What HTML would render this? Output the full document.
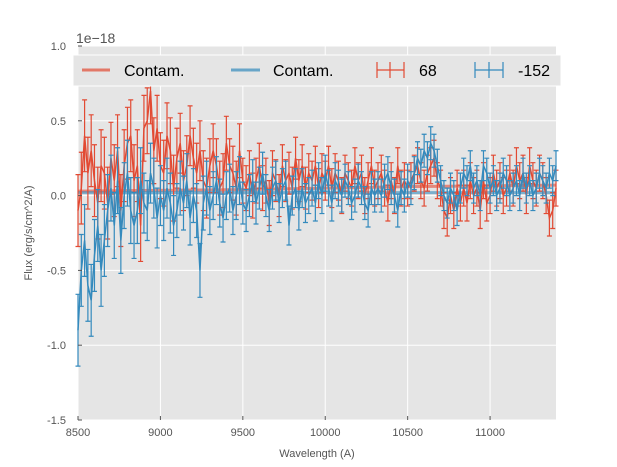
<!DOCTYPE html>
<html><head><meta charset="utf-8"><style>
body{margin:0;background:#fff;font-family:"Liberation Sans","DejaVu Sans",sans-serif}
svg{display:block}
</style></head><body>
<svg id="chart" width="617" height="467" xmlns="http://www.w3.org/2000/svg">
<rect x="78" y="46" width="478" height="374" fill="#e5e5e5"/>
<g id="grid"></g>
<g id="series"></g>
<g id="axes"></g>
<text x="76" y="43" font-size="14" fill="#555">1e−18</text>
<text x="317" y="457" font-size="11" fill="#555" text-anchor="middle">Wavelength (A)</text>
<text transform="translate(32,233) rotate(-90)" font-size="11" fill="#555" text-anchor="middle">Flux (erg/s/cm^2/A)</text>
<g>
<rect x="73" y="55" width="488" height="31" fill="#e5e5e5" stroke="#fff" stroke-width="1"/>
<g><line x1="82" y1="70" x2="110" y2="70" stroke="#E24A33" stroke-width="3" opacity="0.7"/><text x="124" y="76" font-size="16" fill="#000">Contam.</text></g>
<g><line x1="231" y1="70" x2="260" y2="70" stroke="#348ABD" stroke-width="3" opacity="0.7"/><text x="273" y="76" font-size="16" fill="#000">Contam.</text></g>
<g stroke="#E24A33" stroke-width="1.2"><line x1="377" y1="70" x2="404" y2="70"/><line x1="390" y1="62" x2="390" y2="78"/><line x1="377" y1="62" x2="377" y2="78"/><line x1="404" y1="62" x2="404" y2="78"/><text x="419" y="76" font-size="16" fill="#000" stroke="none">68</text></g>
<g stroke="#348ABD" stroke-width="1.2"><line x1="475" y1="70" x2="503" y2="70"/><line x1="489" y1="62" x2="489" y2="78"/><line x1="475" y1="62" x2="475" y2="78"/><line x1="503" y1="62" x2="503" y2="78"/><text x="518" y="76" font-size="16" fill="#000" stroke="none">-152</text></g>
</g>
</svg>
<script>
const xStart = 8500, xStep = 20;
const redFlux = [-0.1,0.05,0.4,0.15,0.3,0.1,-0.05,0.2,0.15,-0.05,0.25,
0.1,0.3,-0.1,0.2,0.35,0.4,0.1,0.2,-0.2,0.45,
0.5,0.7,0.3,0.45,0.2,0.15,0.4,0.3,0.05,0.25,
0.35,0.1,0.2,0.4,0.25,0.15,0.3,0.1,0.05,0.2,
0.3,0.2,0.05,0.1,0.35,0.2,0.15,0.05,0.3,0.1,
0.05,0.15,0.0,0.1,0.2,0.05,0.1,-0.05,0.15,0.1,
0.0,0.2,0.1,0.15,0.05,0.25,0.1,0.2,0.05,0.15,
0.1,0.2,0.05,0.15,0.1,0.2,0.05,0.15,0.1,0.0,
0.15,0.1,0.05,0.2,0.1,0.15,0.0,0.1,0.2,0.05,
0.1,0.15,0.05,-0.05,0.1,0.0,0.2,0.05,0.1,0.05,
0.1,0.15,0.2,0.1,0.05,0.15,0.2,0.25,0.1,0.05,
-0.1,-0.15,0.0,-0.1,0.05,-0.05,0.05,-0.05,0.1,0.0,
0.05,-0.1,0.1,-0.05,0.0,0.15,0.05,0.1,0.0,0.05,
0.15,0.05,0.2,0.1,0.15,0.0,0.2,0.1,0.05,0.15,
0.1,0.0,-0.15,-0.1,0.05];
const blueFlux = [-0.9,-0.5,-0.3,-0.6,-0.7,-0.4,-0.2,-0.5,-0.3,-0.1,0.05,
-0.2,0.1,-0.3,0.0,0.15,-0.1,-0.2,-0.1,0.1,-0.05,
-0.1,0.15,0.05,-0.15,0.0,-0.1,0.05,-0.05,-0.2,-0.1,
0.05,-0.05,0.1,-0.15,0.0,-0.1,-0.5,-0.05,0.05,-0.1,
0.0,0.1,-0.05,-0.15,0.0,0.05,-0.1,0.0,0.1,-0.05,
-0.1,0.0,0.1,-0.05,0.05,0.15,0.0,-0.1,0.05,0.1,
-0.05,0.05,0.1,-0.2,0.0,0.05,-0.1,0.05,-0.05,0.0,
0.05,-0.05,0.1,0.0,0.15,0.05,-0.05,0.1,0.05,0.0,
0.1,0.05,-0.05,0.0,0.1,0.05,-0.05,-0.1,0.05,0.0,
0.05,0.0,0.1,0.15,0.05,0.0,-0.1,0.05,0.0,0.1,
0.05,0.15,0.25,0.2,0.3,0.25,0.35,0.3,0.2,0.1,
0.0,-0.05,0.05,0.0,-0.1,0.05,0.15,0.1,0.2,0.05,
0.1,0.0,0.2,0.15,0.05,0.1,0.0,0.05,0.15,0.1,
0.0,0.05,0.1,0.0,0.15,0.05,0.1,0.0,0.05,0.15,
0.1,0.05,0.15,0.1,0.2];
// error per 10-point block
const redErrBlocks = [0.24,0.24,0.22,0.2,0.18,0.15,0.14,0.13,0.12,0.12,0.12,0.12,0.12,0.12,0.12];
const blueErrBlocks = [0.24,0.22,0.2,0.18,0.16,0.14,0.13,0.12,0.11,0.11,0.11,0.1,0.1,0.1,0.1];
const contamRedX = [8500,9500,10500,11400];
const contamRed = [0.03,0.04,0.06,0.07];
const contamBlueX = [8500,11400];
const contamBlue = [0.02,0.02];
const xTicks = [8500,9000,9500,10000,10500,11000];
const yTicks = [-1.5,-1.0,-0.5,0.0,0.5,1.0];

const NS="http://www.w3.org/2000/svg";
const X0=78,X1=556,Y0=46,Y1=420;
const xs=v=>X0+(v-8500)/(11400-8500)*(X1-X0);
const ys=v=>Y1-(v+1.5)/2.5*(Y1-Y0);
function mk(tag,attrs,parent){const e=document.createElementNS(NS,tag);for(const k in attrs)e.setAttribute(k,attrs[k]);parent.appendChild(e);return e;}
const grid=document.getElementById('grid'),axes=document.getElementById('axes'),ser=document.getElementById('series');
xTicks.forEach(t=>{
  const l=mk('line',{x1:xs(t),x2:xs(t),y1:Y0,y2:Y1,stroke:'#fff','stroke-width':1},grid);
  
  
  const tk=mk('line',{x1:xs(t),x2:xs(t),y1:Y1,y2:Y1-4,stroke:'#555'},axes);
  
  
  const tx=mk('text',{x:xs(t),y:Y1+16,'font-size':11,fill:'#555','text-anchor':'middle'},axes);
  tx.textContent=t;
  
  
});
yTicks.forEach(t=>{
  const l=mk('line',{x1:X0,x2:X1,y1:ys(t),y2:ys(t),stroke:'#fff','stroke-width':1},grid);
  
  
  const tk=mk('line',{x1:X0,x2:X0+4,y1:ys(t),y2:ys(t),stroke:'#555'},axes);
  
  
  const tx=mk('text',{x:X0-12,y:ys(t)+4,'font-size':11,fill:'#555','text-anchor':'end'},axes);
  tx.textContent=t.toFixed(1);
  
  
});
function contam(xa,ya,color,name){
  const p=mk('polyline',{points:xa.map((x,i)=>xs(x)+','+ys(ya[i])).join(' '),fill:'none',stroke:color,'stroke-width':3,opacity:0.6},ser);
  
  
}
function errSeries(vals,errs,color,name){
  const g=mk('g',{stroke:color,'stroke-width':1.2,fill:'none'},ser);
  
  
  vals.forEach((v,i)=>{
    const x=xs(xStart+i*xStep),e=errs[Math.floor(i/10)]||errs[errs.length-1];
    const a=ys(v+e),b=ys(v-e);
    const eb=mk('path',{d:`M${x},${a}V${b}M${x-2.5},${a}H${x+2.5}M${x-2.5},${b}H${x+2.5}`},g);
    
    
  });
  const p=mk('polyline',{points:vals.map((v,i)=>xs(xStart+i*xStep)+','+ys(v)).join(' '),'stroke-width':1.5},g);
  
  
}
contam(contamRedX,contamRed,'#E24A33','contam-red-line');
contam(contamBlueX,contamBlue,'#348ABD','contam-blue-line');
errSeries(redFlux,redErrBlocks,'#E24A33','series-68');
errSeries(blueFlux,blueErrBlocks,'#348ABD','series-152');
</script>
</body></html>
